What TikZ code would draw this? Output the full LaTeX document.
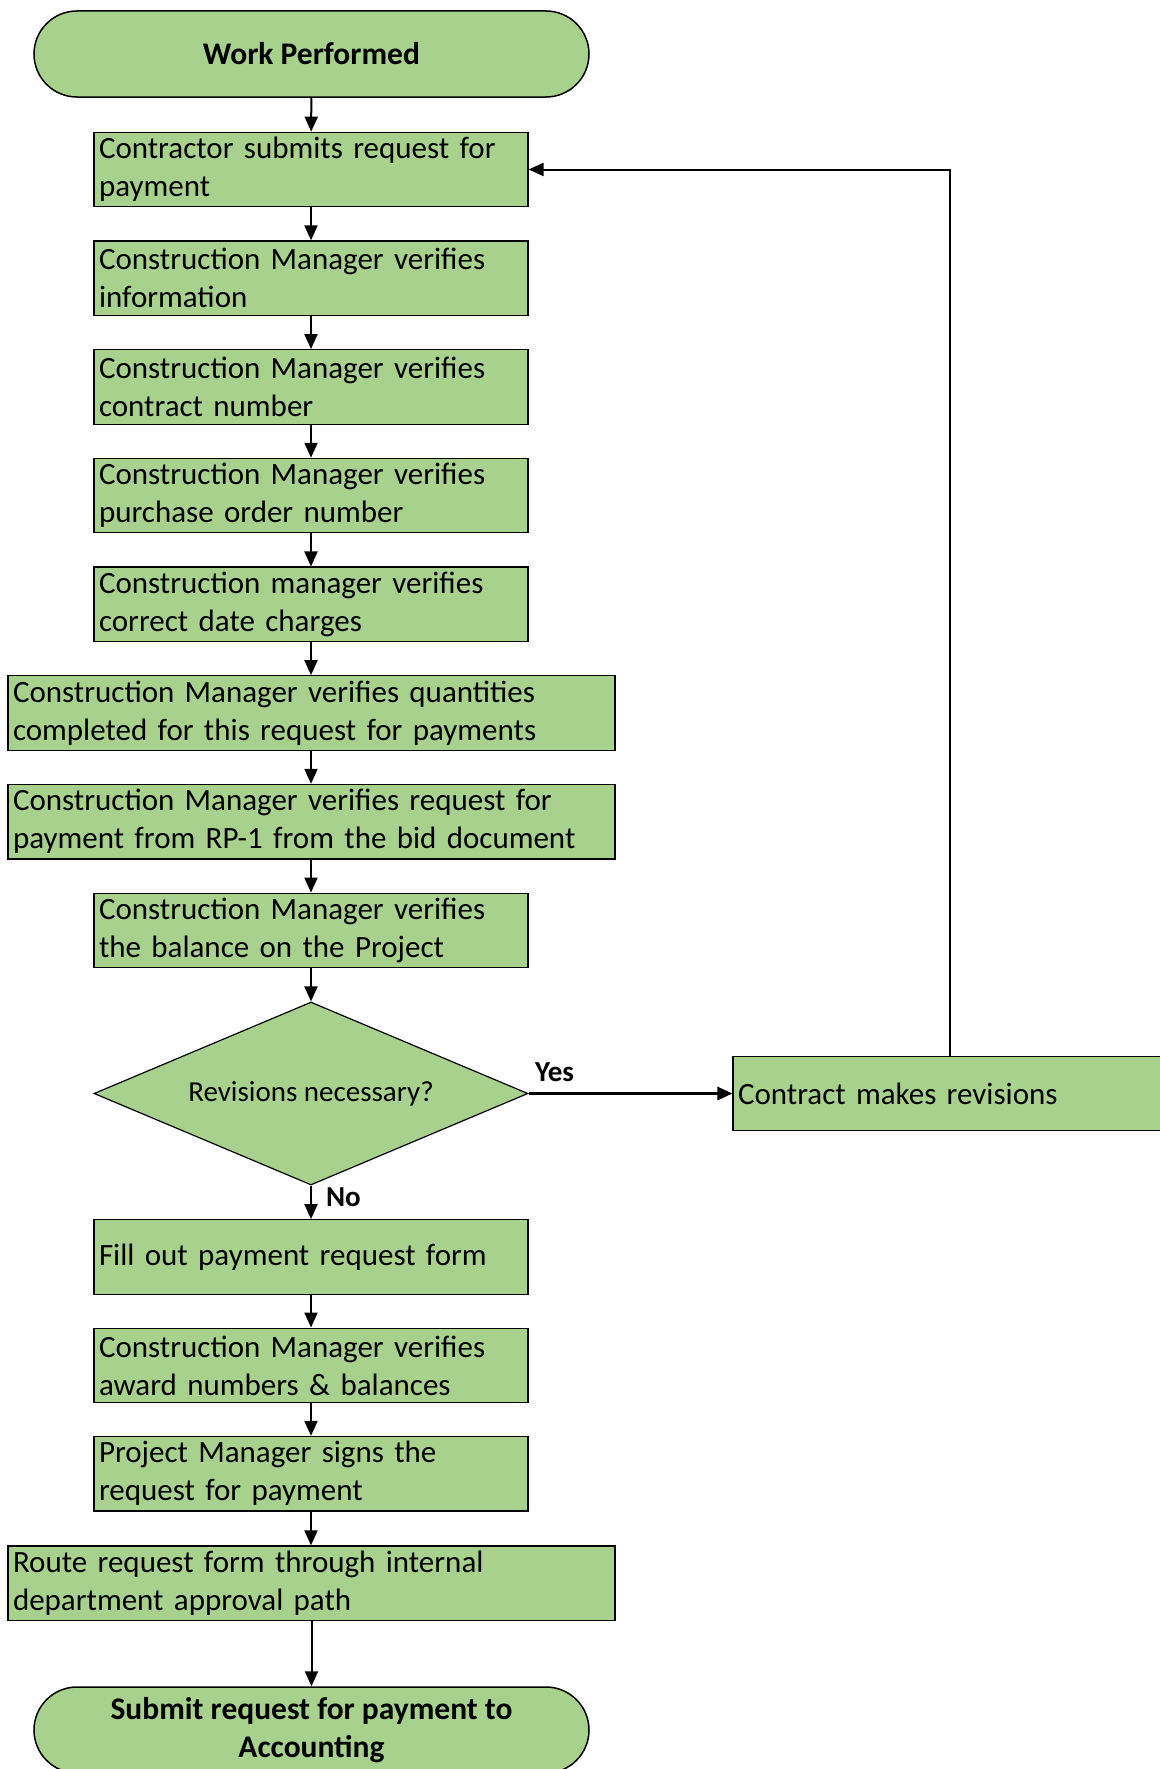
\documentclass[tikz,border=0pt]{standalone}
\usepackage{fontspec}
\setmainfont{Carlito}
\usetikzlibrary{shapes.geometric,arrows.meta}
\definecolor{boxgreen}{HTML}{A9D18E}
\begin{document}
\begin{tikzpicture}[x=1pt,y=-1pt,
  every node/.style={font=\fontsize{31}{38}\selectfont},
  stepbox/.style={draw=black, line width=1.2pt, fill=boxgreen, minimum height=74.5pt,
    text width=424pt, inner xsep=5pt, inner ysep=0pt, align=left},
  widebox/.style={stepbox, text width=597pt},
  terminal/.style={draw=black, line width=1.5pt, fill=boxgreen, rounded corners=43pt,
    minimum width=555pt, minimum height=86pt, align=center,
    font=\fontsize{31.5}{38}\selectfont\bfseries},
  decision/.style={diamond, aspect=2.37, draw=black, line width=1.2pt, fill=boxgreen,
    minimum width=434pt, minimum height=183pt, inner sep=0pt,
    font=\fontsize{29}{35}\selectfont},
  flow/.style={-{Triangle[length=15pt,width=13pt]}, line width=2pt},
  lbl/.style={font=\fontsize{29}{35}\selectfont\bfseries, inner sep=0pt}
]
\useasboundingbox (0,0) rectangle (1159,1769);

% main column
\node[terminal] (start) at (311.5,54) {Work Performed};
\node[stepbox] (b1) at (311,169.5) {Contractor submits request for\\payment};
\node[stepbox] (b2) at (311,278.2) {Construction Manager verifies\\information};
\node[stepbox] (b3) at (311,386.9) {Construction Manager verifies\\contract number};
\node[stepbox] (b4) at (311,495.6) {Construction Manager verifies\\purchase order number};
\node[stepbox] (b5) at (311,604.3) {Construction manager verifies\\correct date charges};
\node[widebox] (b6) at (311.5,713) {Construction Manager verifies quantities\\completed for this request for payments};
\node[widebox] (b7) at (311.5,821.7) {Construction Manager verifies request for\\payment from RP-1 from the bid document};
\node[stepbox] (b8) at (311,930.4) {Construction Manager verifies\\the balance on the Project};
\node[decision] (dec) at (311,1093.5) {Revisions necessary?};
\node[stepbox] (rev) at (950,1093.5) {Contract makes revisions};
\node[stepbox] (b9) at (311,1257) {Fill out payment request form};
\node[stepbox] (b10) at (311,1365.4) {Construction Manager verifies\\award numbers \& balances};
\node[stepbox] (b11) at (311,1473.7) {Project Manager signs the\\request for payment};
\node[widebox] (b12) at (311.5,1583.2) {Route request form through internal\\department approval path};
\node[terminal] (stop) at (311.5,1730) {Submit request for payment to\\Accounting};

% connectors
\draw[flow] (start) -- (b1);
\draw[flow] (b1) -- (b2);
\draw[flow] (b2) -- (b3);
\draw[flow] (b3) -- (b4);
\draw[flow] (b4) -- (b5);
\draw[flow] (b5.south) -- (b6.north -| b5.south);
\draw[flow] (b6.south -| b5.south) -- (b7.north -| b5.south);
\draw[flow] (b7.south -| b8.north) -- (b8.north);
\draw[flow] (b8) -- (dec);
\draw[flow, line width=3pt] (dec.east) -- (rev.west)
  node[lbl, at start, anchor=south west, xshift=5pt, yshift=10pt] {Yes};
\draw[flow] (dec.south) -- (b9.north)
  node[lbl, at start, anchor=north west, xshift=14pt, yshift=-1pt] {No};
\draw[flow] (rev.north) -- (rev.north |- b1.east) -- (b1.east);
\draw[flow] (b9) -- (b10);
\draw[flow] (b10) -- (b11);
\draw[flow] (b11.south) -- (b12.north -| b11.south);
\draw[flow] (b12.south -| stop.north) -- (stop.north);
\end{tikzpicture}
\end{document}
